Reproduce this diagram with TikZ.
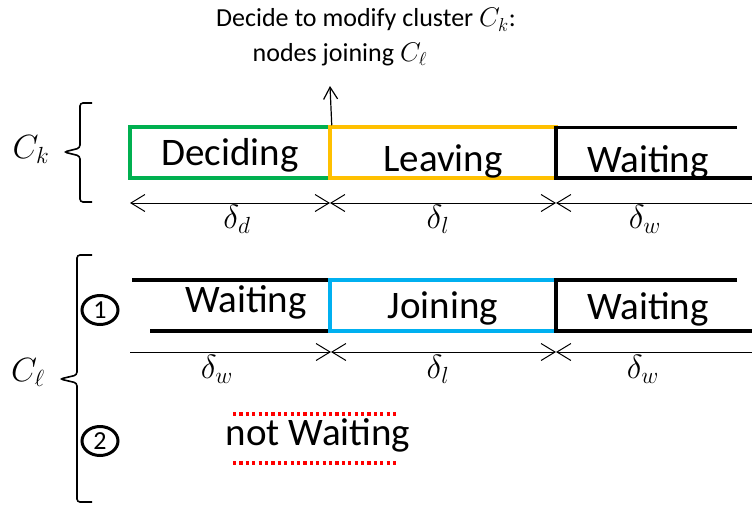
\documentclass[tikz,border=0pt]{standalone}
\usepackage{fontspec}
\setmainfont{Carlito}
\usetikzlibrary{arrows.meta,shapes.geometric}
\definecolor{cgreen}{RGB}{0,176,80}
\definecolor{corange}{RGB}{255,192,0}
\definecolor{ccyan}{RGB}{0,176,240}
\definecolor{cred}{RGB}{255,0,0}
\begin{document}
\begin{tikzpicture}[x=1pt,y=-1pt,
  lbl/.style={font=\fontsize{39}{44}\selectfont, inner sep=0pt, anchor=base},
  mlbl/.style={font=\fontsize{24}{28}\selectfont, scale=1.35, inner sep=0pt, anchor=base},
  note/.style={font=\fontsize{20}{24}\selectfont, scale=1.3, inner sep=0pt, anchor=base},
  phase/.style={draw, line width=3.5pt, minimum width=#1, minimum height=51pt, inner sep=0pt},
  dim/.style={line width=1pt, arrows={Straight Barb[length=14pt,width=17pt,line width=1pt]-Straight Barb[length=14pt,width=17pt,line width=1pt]}},
  dimr/.style={line width=1pt, -{Straight Barb[length=14pt,width=17pt,line width=1pt]}},
  diml/.style={line width=1pt, {Straight Barb[length=14pt,width=17pt,line width=1pt]}-},
  wait/.style={line width=3.5pt},
  brace/.style={line width=1.6pt, rounded corners=3pt},
  num/.style={draw, line width=3pt, ellipse, minimum width=36pt, minimum height=29pt, inner sep=0pt, font=\fontsize{26}{30}\selectfont},
  dots/.style={draw=cred, line width=3.2pt, dash pattern=on 3.2pt off 3.2pt}
]
\useasboundingbox (0,0) rectangle (752,506);

% ---------- C_k row ----------
\node[mlbl] (ck) at (31,158) {$C_k$};
\draw[brace] (92,103) -- (80,103) -- (80,148) -- (64,152) -- (80,156) -- (80,202) -- (92,202);

\node[phase=200pt, draw=cgreen] (dec) at (230,152.5) {};
\node[lbl] (dect) at (230,165) {Deciding};
\node[phase=226pt, draw=corange] (lea) at (443,152.5) {};
\node[lbl] (leat) at (443,171) {Leaving};
\coordinate (w1a) at (737,127.5);
\coordinate (w1b) at (556,127.5);
\coordinate (w1c) at (556,178);
\coordinate (w1d) at (752,178);
\draw[wait] (w1a) -- (w1b) -- (w1c) -- (w1d);
\node[lbl] (wt1) at (648,172) {Waiting};

% decision annotation
\node[note] (n1) at (366,27) {Decide to modify cluster $C_k$:};
\node[note] (n2) at (340,61) {nodes joining $C_\ell$};
\coordinate (up) at (330,86);
\draw[line width=1.2pt, -{Straight Barb[length=12pt,width=14pt,line width=1.2pt]}] (dec.north east) -- (up);

% dimension line top
\coordinate (t0) at (130,203);
\coordinate (t1) at (330,203);
\coordinate (t2) at (556,203);
\coordinate (t3) at (752,203);
\draw[dim] (t0) -- (t1);
\draw[dim] (t1) -- (t2);
\draw[diml] (t2) -- (t3);
\node[mlbl] (dd) at (237,228) {$\delta_d$};
\node[mlbl] (dl) at (438,228) {$\delta_l$};
\node[mlbl] (dw) at (645,228) {$\delta_w$};

% ---------- C_l row ----------
\node[mlbl] (cl) at (28,381) {$C_\ell$};
\draw[brace] (92,255) -- (77,255) -- (77,375) -- (60,379) -- (77,383) -- (77,502) -- (92,502);

\node[num] (one) at (100,310) {1};
\node[num] (two) at (100,441) {2};

\coordinate (w2a) at (132,280);
\coordinate (w2b) at (331,280);
\coordinate (w2c) at (150,331);
\coordinate (w2d) at (331,331);
\draw[wait] (w2a) -- (w2b);
\draw[wait] (w2c) -- (w2d);
\node[lbl] (wt2) at (246,312) {Waiting};

\node[phase=226pt, draw=ccyan] (join) at (443,305.5) {};
\node[lbl] (joint) at (443,318) {Joining};

\coordinate (w3a) at (737,280);
\coordinate (w3b) at (556,280);
\coordinate (w3c) at (556,331);
\coordinate (w3d) at (752,331);
\draw[wait] (w3a) -- (w3b) -- (w3c) -- (w3d);
\node[lbl] (wt3) at (648,319) {Waiting};

% dimension line bottom
\coordinate (b0) at (130,352);
\coordinate (b1) at (331,352);
\coordinate (b2) at (556,352);
\coordinate (b3) at (752,352);
\draw[dimr] (b0) -- (b1);
\draw[dim] (b1) -- (b2);
\draw[diml] (b2) -- (b3);
\node[mlbl] (bw1) at (217,378) {$\delta_w$};
\node[mlbl] (bl) at (438,378) {$\delta_l$};
\node[mlbl] (bw2) at (643,378) {$\delta_w$};

% not waiting
\node[lbl] (nw) at (318,445) {not Waiting};
\coordinate (r1a) at (233,414);
\coordinate (r1b) at (397,414);
\coordinate (r2a) at (233,463);
\coordinate (r2b) at (397,463);
\draw[dots] (r1a) -- (r1b);
\draw[dots] (r2a) -- (r2b);
\end{tikzpicture}
\end{document}
